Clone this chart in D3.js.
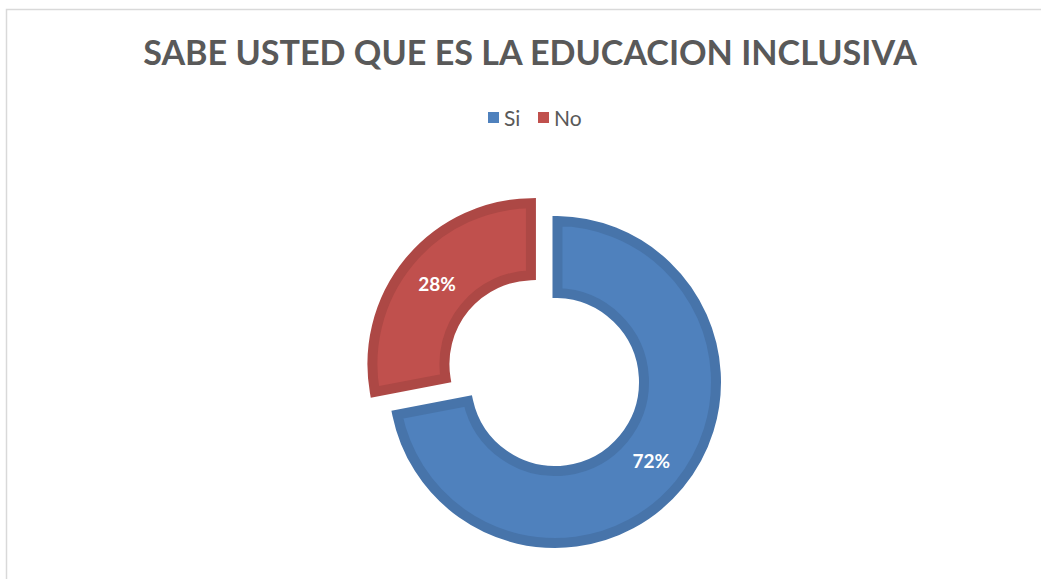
<!DOCTYPE html>
<html>
<head>
<meta charset="utf-8">
<script src="https://cdn.jsdelivr.net/npm/d3@7"></script>
<style>
  body { margin: 0; background: #fff; }
  text { font-family: Lato, "Open Sans", sans-serif; }
</style>
</head>
<body>
<svg width="1041" height="579"></svg>
<script>
var categories = ['Si', 'No'];
var values = [72, 28];
var colors = ['#4f81bd', '#c0504d'];
var title = 'SABE USTED QUE ES LA EDUCACION INCLUSIVA';

var width = 1041, height = 579;
var center = [555, 382];
var outerR = 161, innerR = 89, explode = 28;

var svg = d3.select('svg');

// chart area border (cut off on the right and bottom in the reference)
svg.append('rect')
	.attr('x', 6.5).attr('y', 9.5)
	.attr('width', 1200).attr('height', 800)
	.attr('fill', 'none')
	.attr('stroke', '#d9d9d9')
	.attr('stroke-width', 1.5);

// title, sized to the width it has in the reference
var t = svg.append('text')
	.attr('x', 530).attr('y', 65)
	.attr('text-anchor', 'middle')
	.attr('font-weight', 'bold')
	.attr('font-size', 31)
	.attr('fill', '#595959')
	.text(title);
var tw = t.node().getComputedTextLength();
t.attr('font-size', 31 * 774 / tw);

// legend
var legend = svg.append('g').attr('transform', 'translate(488, 118)');
var legendX = [0, 50];
categories.forEach(function(c, i) {
	var g = legend.append('g').attr('transform', 'translate(' + legendX[i] + ',0)');
	g.append('rect')
		.attr('x', 0).attr('y', -6)
		.attr('width', 11).attr('height', 11)
		.attr('fill', colors[i]);
	g.append('text')
		.attr('x', 16).attr('y', 7.5)
		.attr('font-size', 21)
		.attr('fill', '#595959')
		.text(c);
});

var pie = d3.pie().sort(null).value(function(d){ return d; });
var arcs = pie(values);

var arc = d3.arc()
	.innerRadius(innerR)
	.outerRadius(outerR)
	.padAngle(0.1)
	.padRadius(50);

var labelArc = d3.arc()
	.innerRadius((innerR + outerR) / 2)
	.outerRadius((innerR + outerR) / 2);

// only the "No" slice is pulled out
function offset(d, i) {
	if (i !== 1) return [0, 0];
	var a = (d.startAngle + d.endAngle) / 2;
	return [Math.sin(a) * explode, -Math.cos(a) * explode];
}

var slices = svg.append('g')
	.attr('transform', 'translate(' + center[0] + ',' + center[1] + ')')
	.selectAll('g.slice')
	.data(arcs)
	.enter()
	.append('g')
	.attr('class', 'slice')
	.attr('transform', function(d, i){ var o = offset(d, i); return 'translate(' + o[0] + ',' + o[1] + ')'; });

slices.append('path')
	.attr('d', arc)
	.attr('fill', function(d, i){ return colors[i]; })
	.attr('stroke', function(d, i){ return d3.color(colors[i]).darker(0.3); })
	.attr('stroke-width', 10)
	.attr('stroke-linejoin', 'miter');

slices.append('text')
	.attr('transform', function(d){ return 'translate(' + labelArc.centroid(d) + ')'; })
	.attr('text-anchor', 'middle')
	.attr('dy', '0.35em')
	.attr('font-weight', 'bold')
	.attr('font-size', 19)
	.attr('fill', '#ffffff')
	.text(function(d){ return d.value + '%'; });
</script>
</body>
</html>
